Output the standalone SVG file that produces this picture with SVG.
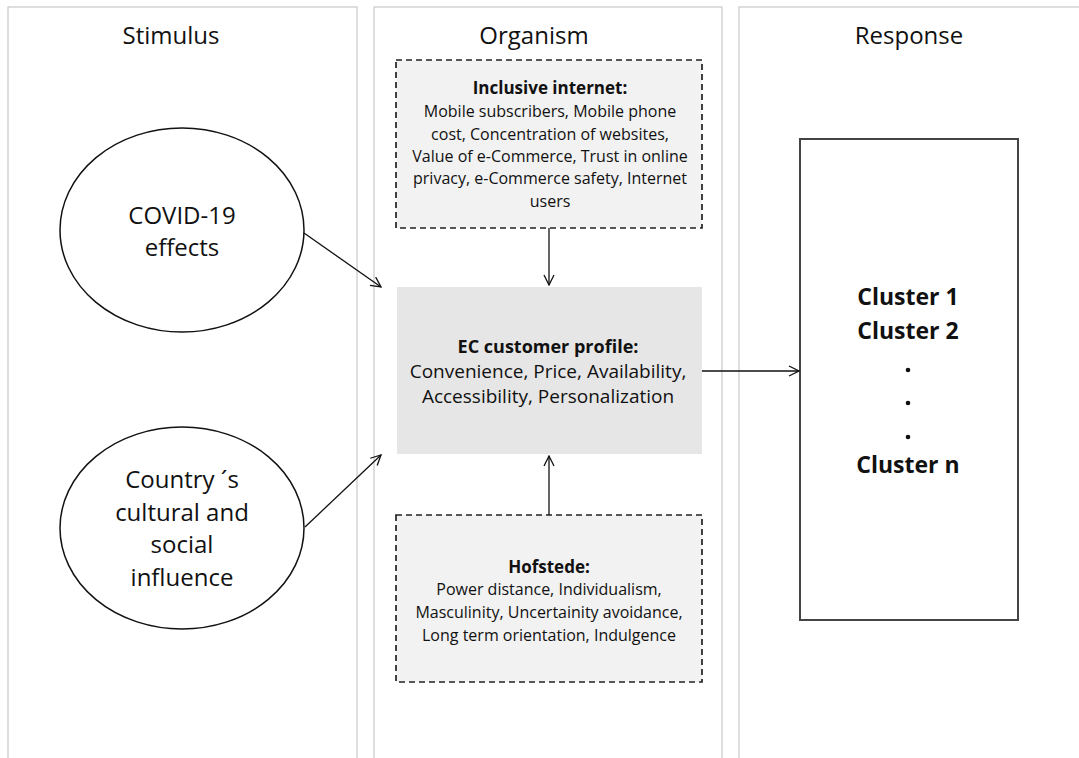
<svg xmlns="http://www.w3.org/2000/svg" width="1079" height="758" viewBox="0 0 1079 758">
<style>
  .panel { fill: #ffffff; stroke: #c8c8c8; stroke-width: 1.2; }
  .title { font-family: "Open Sans", "Liberation Sans", sans-serif; font-size: 24px; fill: #111; text-anchor: middle; }
  .ell { fill: #ffffff; stroke: #111; stroke-width: 1.5; }
  .elltxt { font-family: "Open Sans", "Liberation Sans", sans-serif; font-size: 24px; fill: #111; text-anchor: middle; }
  .dash { fill: #f2f2f2; stroke: #222; stroke-width: 1.7; stroke-dasharray: 6 4; }
  .ec { fill: #e6e6e6; stroke: none; }
  .cl { fill: #ffffff; stroke: #444; stroke-width: 2; }
  .small { font-family: "Open Sans", "Liberation Sans", sans-serif; font-size: 16px; fill: #111; text-anchor: middle; }
  .smallb { font-family: "Open Sans", "Liberation Sans", sans-serif; font-size: 17px; font-weight: bold; fill: #111; text-anchor: middle; }
  .mid { font-family: "Open Sans", "Liberation Sans", sans-serif; font-size: 19px; fill: #111; text-anchor: middle; }
  .midb { font-family: "Open Sans", "Liberation Sans", sans-serif; font-size: 18px; font-weight: bold; fill: #111; text-anchor: middle; }
  .clt { font-family: "Open Sans", "Liberation Sans", sans-serif; font-size: 23px; font-weight: bold; fill: #111; text-anchor: middle; }
  .conn { stroke: #111; stroke-width: 1.3; fill: none; marker-end: url(#arr); }
</style>
<defs>
  <marker id="arr" viewBox="0 0 12 12" refX="11" refY="6" markerWidth="12" markerHeight="12" markerUnits="userSpaceOnUse" orient="auto">
    <path d="M1,1 L11,6 L1,11" fill="none" stroke="#111" stroke-width="1.3"/>
  </marker>
</defs>
<rect width="1079" height="758" fill="#ffffff"/>
<g id="panel-stimulus">
  <rect class="panel" x="8" y="7" width="349" height="770"/>
  <text class="title" x="171" y="44">Stimulus</text>
</g>
<g id="panel-organism">
  <rect class="panel" x="374" y="7" width="348" height="770"/>
  <text class="title" x="534" y="44">Organism</text>
</g>
<g id="panel-response">
  <rect class="panel" x="739" y="7" width="360" height="770"/>
  <text class="title" x="909" y="44">Response</text>
</g>
<g id="covid">
  <ellipse class="ell" cx="182" cy="230" rx="122" ry="102"/>
  <text class="elltxt" x="182" y="224">COVID-19</text>
  <text class="elltxt" x="182" y="256">effects</text>
</g>
<g id="country">
  <ellipse class="ell" cx="182" cy="528" rx="122" ry="101"/>
  <text class="elltxt" x="182" y="488">Country ´s</text>
  <text class="elltxt" x="182" y="521">cultural and</text>
  <text class="elltxt" x="182" y="553">social</text>
  <text class="elltxt" x="182" y="586">influence</text>
</g>
<g id="inclusive">
  <rect class="dash" x="396" y="60" width="306" height="168"/>
  <text class="smallb" x="550" y="94">Inclusive internet:</text>
  <text class="small" x="550" y="117">Mobile subscribers, Mobile phone</text>
  <text class="small" x="550" y="140">cost, Concentration of websites,</text>
  <text class="small" x="550" y="162">Value of e-Commerce, Trust in online</text>
  <text class="small" x="550" y="184">privacy, e-Commerce safety, Internet</text>
  <text class="small" x="550" y="207">users</text>
</g>
<g id="ec-profile">
  <rect class="ec" x="397" y="287" width="305" height="167"/>
  <text class="midb" x="548" y="353">EC customer profile:</text>
  <text class="mid" x="548" y="378">Convenience, Price, Availability,</text>
  <text class="mid" x="548" y="403">Accessibility, Personalization</text>
</g>
<g id="hofstede">
  <rect class="dash" x="396" y="515" width="306" height="167"/>
  <text class="smallb" x="549" y="573">Hofstede:</text>
  <text class="small" x="549" y="595">Power distance, Individualism,</text>
  <text class="small" x="549" y="618">Masculinity, Uncertainity avoidance,</text>
  <text class="small" x="549" y="641">Long term orientation, Indulgence</text>
</g>
<g id="clusters">
  <rect class="cl" x="800" y="139" width="218" height="481"/>
  <text class="clt" x="908" y="305">Cluster 1</text>
  <text class="clt" x="908" y="339">Cluster 2</text>
  <circle cx="908" cy="370" r="2.3" fill="#111"/>
  <circle cx="908" cy="403" r="2.3" fill="#111"/>
  <circle cx="908" cy="437" r="2.3" fill="#111"/>
  <text class="clt" x="908" y="473">Cluster n</text>
</g>
<g id="connectors">
  <line class="conn" x1="304" y1="233" x2="381" y2="287"/>
  <line class="conn" x1="305" y1="527" x2="381" y2="455"/>
  <line class="conn" x1="549" y1="228" x2="549" y2="285"/>
  <line class="conn" x1="549" y1="515" x2="549" y2="456"/>
  <line class="conn" x1="702" y1="371" x2="799" y2="371"/>
</g>
</svg>
